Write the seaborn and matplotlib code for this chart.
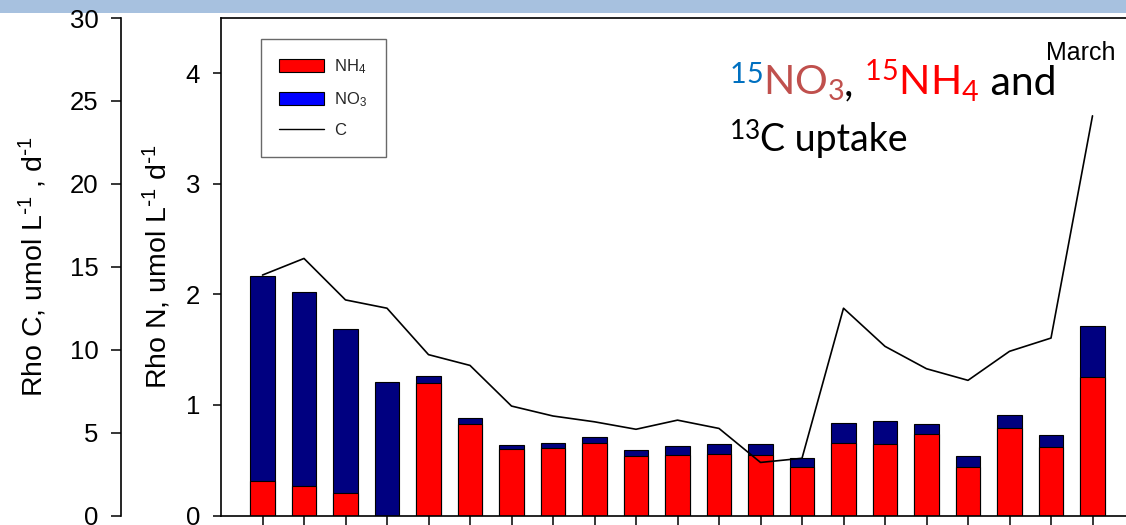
import numpy as np
import pandas as pd
import matplotlib
matplotlib.use("Agg")
import matplotlib.pyplot as plt
import seaborn as sns
from matplotlib.patches import Patch, Rectangle
from matplotlib.lines import Line2D

# Uptake rates for 21 consecutive samples
samples = [f"{i:02d}" for i in range(1, 22)]
rho_nh4 = [0.31, 0.27, 0.20, 0.00, 1.195, 0.83, 0.60, 0.615, 0.66, 0.54, 0.547,
           0.556, 0.55, 0.44, 0.66, 0.65, 0.74, 0.44, 0.79, 0.62, 1.25]
rho_no3 = [1.86, 1.75, 1.49, 1.21, 0.065, 0.05, 0.04, 0.04, 0.047, 0.05, 0.078,
           0.088, 0.094, 0.08, 0.18, 0.205, 0.09, 0.10, 0.12, 0.11, 0.466]
rho_c = [14.5, 15.5, 13.0, 12.5, 9.7, 9.05, 6.6, 6.0, 5.65, 5.2, 5.75,
         5.25, 3.2, 3.45, 12.5, 10.2, 8.85, 8.15, 9.9, 10.7, 24.1]
n_ticks = [0, 1, 2, 3, 4]
c_ticks = [0, 5, 10, 15, 20, 25, 30]

df = pd.DataFrame({"sample": samples, "nh4": rho_nh4, "no3": rho_no3, "c": rho_c})
df["total"] = df["nh4"] + df["no3"]

sns.set_theme(style="white")
plt.rcParams["font.family"] = ["Liberation Sans", "DejaVu Sans"]
plt.rcParams["mathtext.default"] = "regular"

W, H = 1126, 525
fig = plt.figure(figsize=(W / 100, H / 100), dpi=100)

# slide header band
fig.add_artist(Rectangle((0, 1 - 12.5 / H), 1, 12.5 / H, transform=fig.transFigure,
                         facecolor="#A7C1DF", edgecolor="none", zorder=0))

ax = fig.add_axes([221 / W, 1 - 515.5 / H, 913 / W, 497.5 / H])

# stacked bars: total (NO3 on top) then NH4 over it
sns.barplot(data=df, x="sample", y="total", color="#000080", saturation=1,
            width=0.6, edgecolor="black", linewidth=0.8, errorbar=None, ax=ax)
sns.barplot(data=df, x="sample", y="nh4", color="#FF0000", saturation=1,
            width=0.6, edgecolor="black", linewidth=0.8, errorbar=None, ax=ax)

ax.set_xlim(-1, 21)
ax.set_ylim(0, 4.5)
ax.set_yticks(n_ticks)
ax.set_xticks(range(len(samples)))
ax.set_xticklabels([])
ax.set_xlabel("")
ax.set_ylabel(r"Rho N, umol L$^{\text{-}1}$ d$^{\text{-}1}$", fontsize=20.5, color="black")
ax.yaxis.label.set_va("center")
ax.yaxis.set_label_coords((157 - 221) / 913, 0.5)
ax.tick_params(axis="x", direction="out", length=7, width=1.1, color="black", bottom=True)
ax.tick_params(axis="y", direction="out", length=6, width=1.1, color="black", left=True,
               labelsize=18.5, pad=9, labelcolor="black")
for side in ["left", "bottom", "top"]:
    ax.spines[side].set_color("black")
    ax.spines[side].set_linewidth(1.2)
ax.spines["right"].set_visible(False)

# carbon uptake on its own scale, spine pushed out to the left
tw = ax.twinx()
sns.lineplot(x=df.index, y=df["c"], color="black", linewidth=1.2, ax=tw)
tw.set_ylim(0, 30)
tw.set_yticks(c_ticks)
tw.yaxis.tick_left()
tw.yaxis.set_label_position("left")
for side in ["right", "top", "bottom"]:
    tw.spines[side].set_visible(False)
tw.spines["left"].set_visible(True)
tw.spines["left"].set_position(("outward", 72))
tw.spines["left"].set_color("black")
tw.spines["left"].set_linewidth(1.2)
tw.tick_params(axis="y", direction="out", length=7, width=1.1, color="black", left=True,
               right=False, labelsize=18.5, pad=9, labelcolor="black")
tw.set_ylabel(r"Rho C, umol L$^{\text{-}1}$ , d$^{\text{-}1}$", fontsize=20.5, color="black")
tw.yaxis.label.set_va("center")
tw.yaxis.set_label_coords((33 - 221) / 913, 0.5)
tw.set_xlabel("")

handles = [Patch(facecolor="#FF0000", edgecolor="black", linewidth=0.8),
           Patch(facecolor="#0000FF", edgecolor="black", linewidth=0.8),
           Line2D([], [], color="black", linewidth=1.0)]
leg = tw.legend(handles, [r"NH$_4$", r"NO$_3$", "C"], loc="upper left",
                bbox_to_anchor=((261 - 221) / 913, 1 - 21 / 497.5), fontsize=12,
                frameon=True, fancybox=False, shadow=False, handlelength=2.65,
                handleheight=0.85, labelspacing=0.85, borderpad=1.1, handletextpad=0.65,
                borderaxespad=0)
leg.get_frame().set_edgecolor("#444444")
leg.get_frame().set_linewidth(1.0)

fig.text(1116 / W, 1 - 60 / H, "March", ha="right", va="baseline", fontsize=18,
         color="black")

# multi-coloured heading
renderer = fig.canvas.get_renderer()
def colored_line(pieces, x_px, base_px, size):
    x = x_px
    for s, col in pieces:
        t = fig.text(x / W, 1 - base_px / H, s, color=col, fontsize=size,
                     family=["Lato", "DejaVu Sans"], ha="left", va="baseline")
        x += t.get_window_extent(renderer).width

colored_line([(r"$^{15}$", "#0070C0"), (r"NO$_3$", "#C0504D"), (", ", "black"),
              (r"$^{15}$NH$_4$", "#FF0000"), (" and", "black")], 729, 95, 29.5)
colored_line([(r"$^{13}$", "black"), ("C uptake", "black")], 729, 151, 27)

fig.savefig("out.png", dpi=100)
